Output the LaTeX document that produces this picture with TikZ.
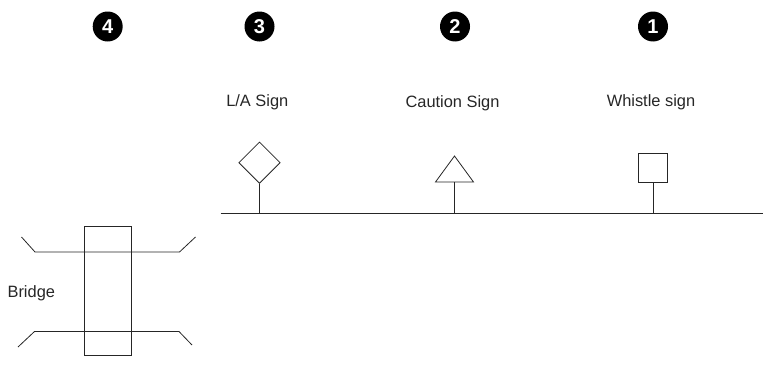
\documentclass[tikz,border=0pt]{standalone}
\usepackage{fontspec}
\setmainfont{Liberation Sans}
\usetikzlibrary{shapes.geometric}
\tikzset{
  ln/.style={draw=black!85,line width=0.8pt},
  badge/.style={circle,fill=black,text=white,minimum size=30pt,inner sep=0pt,font=\fontsize{20}{20}\selectfont\bfseries},
  lbl/.style={inner sep=0pt,anchor=base,text=black!85,font=\fontsize{16.4}{18}\selectfont},
}
\begin{document}
\begin{tikzpicture}[x=1pt,y=-1pt]
\useasboundingbox (0,0) rectangle (763,372);
% badges
\node[badge] (b4) at (107.7,26.5) {4};
\node[badge] (b3) at (259.5,26.5) {3};
\node[badge] (b2) at (455,26.5) {2};
\node[badge] (b1) at (653,26.5) {1};
% labels
\node[lbl] (t3) at (257.3,106) {L/A Sign};
\node[lbl] (t2) at (452.5,107) {Caution Sign};
\node[lbl] (t1) at (651,106) {Whistle sign};
\node[lbl] (tb) at (31.3,297.5) {Bridge};
% ground line
\coordinate (gl) at (220.5,213.5);
\coordinate (gr) at (763,213.5);
\draw[ln] (gl) -- (gr);
% signs
\node[ln,diamond,aspect=1,minimum width=41.5pt,minimum height=41.5pt,inner sep=0pt] (dia) at (259.5,162.7) {};
\coordinate (g3) at (259.5,213.5);
\draw[ln] (dia.south) -- (g3);
\coordinate (ta) at (454.5,156);
\coordinate (tl) at (435.5,182);
\coordinate (tr) at (473.5,182);
\coordinate (tm) at (454.5,182);
\coordinate (g2) at (454.5,213.5);
\draw[ln,line join=miter] (ta) -- (tl) -- (tr) -- cycle;
\draw[ln] (tm) -- (g2);
\node[ln,rectangle,minimum width=28.5pt,minimum height=28.5pt,inner sep=0pt] (sq) at (653,168) {};
\coordinate (g1) at (653,213.5);
\draw[ln] (sq.south) -- (g1);
% bridge
\node[ln,rectangle,minimum width=47pt,minimum height=129pt,inner sep=0pt] (deck) at (107.5,290.5) {};
\coordinate (a1) at (21.5,237);
\coordinate (a2) at (35,252);
\coordinate (a3) at (179.5,252);
\coordinate (a4) at (195.5,237);
\coordinate (c1) at (18,347);
\coordinate (c2) at (34.5,331.5);
\coordinate (c3) at (179,331.5);
\coordinate (c4) at (192,345);
\draw[ln] (a1) -- (a2) -- (a3) -- (a4);
\draw[ln] (c1) -- (c2) -- (c3) -- (c4);
\end{tikzpicture}
\end{document}
